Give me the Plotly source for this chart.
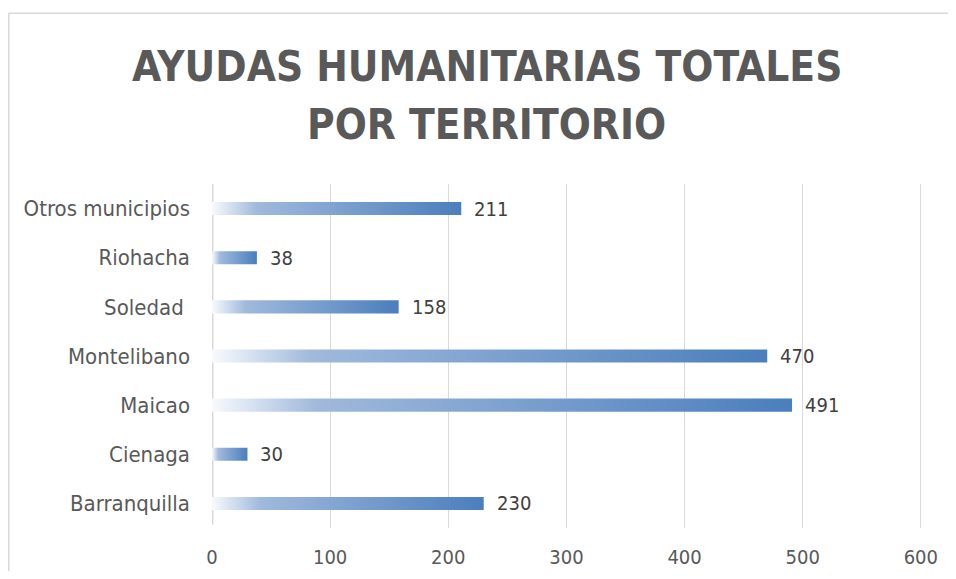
import plotly.graph_objects as go

categories = ["Barranquilla", "Cienaga", "Maicao", "Montelibano", "Soledad ", "Riohacha", "Otros municipios"]
values = [230, 30, 491, 470, 158, 38, 211]
x_ticks = [0, 100, 200, 300, 400, 500, 600]
title_lines = ["AYUDAS HUMANITARIAS TOTALES", "POR TERRITORIO"]

# the page body has an 8px margin; the figure is laid out in its own pixels
OFF = 8
W, H = 940, 563
ML, MR, MT, MB = 204, 25.8, 175.5, 43.2
X_MAX = 601
half = 0.133
grad = [[0.0, "rgb(248,250,253)"], [0.18, "rgb(160,185,220)"], [1.0, "rgb(74,126,189)"]]
FONT = "DejaVu Sans Condensed, DejaVu Sans, sans-serif"

pw = W - ML - MR
ph = H - MT - MB
fx = lambda px: (px - OFF - ML) / pw          # page px -> paper x
fy = lambda py: 1 - (py - OFF - MT) / ph      # page px -> paper y

fig = go.Figure()
for i, (c, v) in enumerate(zip(categories, values)):
    fig.add_trace(go.Scatter(
        x=[0, v, v, 0, 0], y=[i - half, i - half, i + half, i + half, i - half],
        mode="lines", line=dict(width=0), fill="toself",
        fillgradient=dict(type="horizontal", colorscale=grad),
        hoverinfo="text", text=f"{c}: {v}", showlegend=False))

annotations = []
for i, v in enumerate(values):
    annotations.append(dict(x=v, y=i, xref="x", yref="y", text=str(v), showarrow=False,
                            xanchor="left", yanchor="middle", xshift=11,
                            font=dict(size=20, color="#404040", family=FONT)))
for line, py in zip(title_lines, [66, 124]):
    annotations.append(dict(x=fx(487), y=fy(py), xref="paper", yref="paper", text=line,
                            showarrow=False, xanchor="center", yanchor="middle",
                            font=dict(size=42, color="#595959", family=FONT, weight="bold")))

fig.update_layout(
    width=W, height=H,
    margin=dict(l=ML, r=MR, t=MT, b=MB, autoexpand=False),
    paper_bgcolor="white", plot_bgcolor="white",
    annotations=annotations,
    xaxis=dict(range=[0, X_MAX], tickvals=x_ticks, showgrid=True, gridcolor="#d9d9d9", gridwidth=1,
               zeroline=False, showline=False, ticks="", ticklabelstandoff=15, automargin=False,
               tickfont=dict(size=20, color="#595959", family=FONT), fixedrange=True),
    yaxis=dict(range=[-0.5, len(categories) - 0.5], tickvals=list(range(len(categories))),
               ticktext=categories, showgrid=False, zeroline=False, showline=False, ticks="",
               ticklabelstandoff=21, automargin=False,
               tickfont=dict(size=22, color="#595959", family=FONT), fixedrange=True),
    shapes=[
        dict(type="line", xref="x", yref="paper", x0=0, x1=0, y0=0.01, y1=1,
             line=dict(color="#d9d9d9", width=3), layer="below"),
        dict(type="line", xref="paper", yref="paper", x0=fx(8.5), x1=fx(960), y0=fy(12.5), y1=fy(12.5),
             line=dict(color="#d9d9d9", width=1.5)),
        dict(type="line", xref="paper", yref="paper", x0=fx(8.7), x1=fx(8.7), y0=fy(12.5), y1=fy(600),
             line=dict(color="#d9d9d9", width=1.5)),
    ],
)

fig.write_html("out.html")
